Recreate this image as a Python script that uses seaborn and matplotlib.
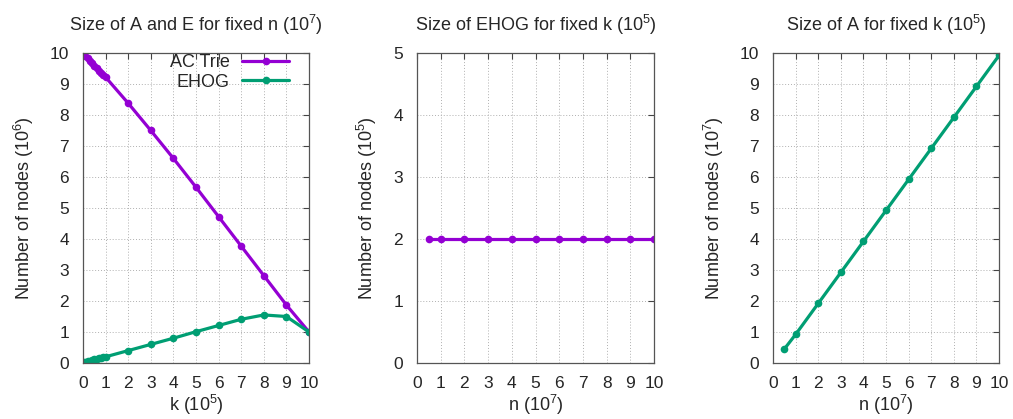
import matplotlib
matplotlib.use("Agg")
import matplotlib.pyplot as plt
import seaborn as sns
import pandas as pd

sns.set_style("white")
plt.rcParams['font.family'] = ['Liberation Sans', 'DejaVu Sans']
plt.rcParams['mathtext.fontset'] = 'custom'
plt.rcParams['mathtext.rm'] = 'Liberation Sans'

# Panel 1: fixed n, varying k (10^5)
k_vals = [0.01, 0.1, 0.2, 0.3, 0.4, 0.5, 0.6, 0.7, 0.8, 0.9, 1, 2, 3, 4, 5, 6, 7, 8, 9, 10]
ac_trie = [9.99, 9.91, 9.83, 9.75, 9.67, 9.59, 9.51, 9.43, 9.36, 9.29, 9.22, 8.38, 7.5, 6.6, 5.67, 4.72, 3.77, 2.82, 1.87, 1.0]
ehog = [0.02, 0.04, 0.06, 0.08, 0.10, 0.12, 0.13, 0.15, 0.17, 0.18, 0.20, 0.40, 0.60, 0.80, 1.01, 1.21, 1.41, 1.55, 1.50, 1.0]

# Panel 2: fixed k, varying n (10^7)
n_vals = [0.5, 1, 2, 3, 4, 5, 6, 7, 8, 9, 10]
ehog_fixed_k = [2.0, 2.0, 2.0, 2.0, 2.0, 2.0, 2.0, 2.0, 2.0, 2.0, 2.0]

# Panel 3: fixed k, varying n (10^7)
ac_fixed_k = [0.45, 0.92, 1.92, 2.92, 3.92, 4.92, 5.92, 6.92, 7.92, 8.92, 9.92]

purple = '#9400D3'
green = '#009E73'

fig = plt.figure(figsize=(10.13, 4.19), dpi=100)
H = 419.0
W = 1013.0
def rect(x0, x1, ytop, ybot):
    return [x0 / W, 1 - ybot / H, (x1 - x0) / W, (ybot - ytop) / H]

ax1 = fig.add_axes(rect(83, 309, 53, 363))
ax2 = fig.add_axes(rect(417, 654, 53, 363))
ax3 = fig.add_axes(rect(773, 999, 53, 363))

df1 = pd.DataFrame({'k': k_vals * 2,
                    'v': ac_trie + ehog,
                    's': ['AC Trie'] * len(k_vals) + ['EHOG'] * len(k_vals)})
sns.lineplot(data=df1, x='k', y='v', hue='s', palette=[purple, green], marker='o',
             markersize=5.5, markeredgewidth=0, linewidth=2.3, ax=ax1, legend=True)

df2 = pd.DataFrame({'n': n_vals, 'v': ehog_fixed_k})
sns.lineplot(data=df2, x='n', y='v', color=purple, marker='o', markersize=5.5,
             markeredgewidth=0, linewidth=2.3, ax=ax2)

df3 = pd.DataFrame({'n': n_vals, 'v': ac_fixed_k})
sns.lineplot(data=df3, x='n', y='v', color=green, marker='o', markersize=5.5,
             markeredgewidth=0, linewidth=2.3, ax=ax3)

fs_tick = 12.5
fs = 13
for ax, ymax, title, xl, yl in [
    (ax1, 10, 'Size of A and E for fixed n (10$^{7}$)', 'k (10$^{5}$)', 'Number of nodes (10$^{6}$)'),
    (ax2, 5, 'Size of EHOG for fixed k (10$^{5}$)', 'n (10$^{7}$)', 'Number of nodes (10$^{5}$)'),
    (ax3, 10, 'Size of A for fixed k (10$^{5}$)', 'n (10$^{7}$)', 'Number of nodes (10$^{7}$)'),
]:
    ax.set_xlim(0, 10)
    ax.set_ylim(0, ymax)
    ax.set_xticks(range(0, 11))
    ax.set_yticks(range(0, ymax + 1))
    ax.grid(True, color='#b0b0b0', linestyle=(0, (1, 2)), linewidth=0.7)
    ax.tick_params(direction='in', length=4, width=0.8, labelsize=fs_tick, top=True, right=True,
                   color='#444444')
    ax.tick_params(axis='x', pad=9)
    ax.tick_params(axis='y', pad=10)
    for sp in ax.spines.values():
        sp.set_visible(True)
        sp.set_color('#555555')
        sp.set_linewidth(0.9)
    ax.set_title(title, fontsize=fs, pad=16)
    ax.set_xlabel(xl, fontsize=fs, labelpad=2)
    ax.set_ylabel(yl, fontsize=fs, labelpad=10)

leg = ax1.legend(loc='upper right', frameon=False, markerfirst=False, fontsize=fs,
                 handlelength=2.6, handletextpad=0.7, borderaxespad=0, borderpad=0,
                 labelspacing=0.15, bbox_to_anchor=(0.912, 0.997))
# right-align legend labels
for packer in leg.get_children()[0].get_children()[1].get_children():
    packer.align = 'right'
for t in leg.get_texts():
    t.set_ha('right')
    t.set_position((0, 0))

fig.savefig('out.png', dpi=100)
